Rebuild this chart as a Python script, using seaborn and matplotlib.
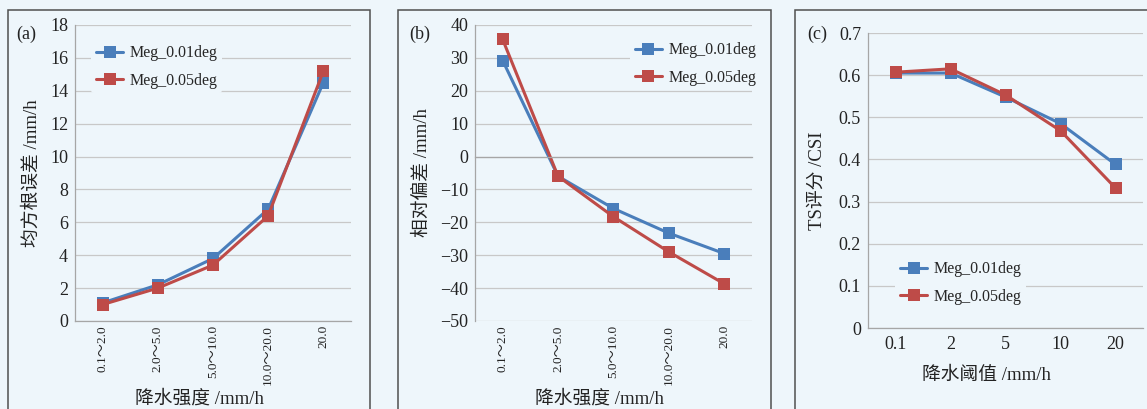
import numpy as np
import pandas as pd
import matplotlib
matplotlib.use("Agg")
import matplotlib.pyplot as plt
from matplotlib.patches import Rectangle
from matplotlib.ticker import FixedLocator, MultipleLocator, FuncFormatter
import seaborn as sns

# ---- data ----
intensity_bins = ["0.1～2.0", "2.0～5.0", "5.0～10.0", "10.0～20.0", "20.0"]
thresholds = ["0.1", "2", "5", "10", "20"]
series_names = ["Meg_0.01deg", "Meg_0.05deg"]

rmse_001 = [1.1, 2.2, 3.8, 6.8, 14.5]
rmse_005 = [1.0, 2.0, 3.4, 6.4, 15.2]
bias_001 = [29.2, -6.0, -15.8, -23.3, -29.5]
bias_005 = [35.6, -6.0, -18.3, -29.0, -38.7]
ts_001 = [0.605, 0.605, 0.548, 0.485, 0.388]
ts_005 = [0.607, 0.615, 0.553, 0.468, 0.332]

BG = "#eef6fb"
GRID = "#c8c8c8"
SPINE = "#a6a6a6"
TXT = "#222222"
palette = {series_names[0]: "#4a7ebb", series_names[1]: "#be4b48"}

sns.set_style("white")
plt.rcParams["font.family"] = ["Liberation Serif", "Noto Sans CJK SC"]
plt.rcParams["axes.unicode_minus"] = True


def long_frame(a, b):
    n = len(a)
    return pd.DataFrame({
        "pos": list(range(n)) * 2,
        "value": list(a) + list(b),
        "model": [series_names[0]] * n + [series_names[1]] * n,
    })


def draw_panel(ax, df):
    sns.lineplot(data=df, x="pos", y="value", hue="model", palette=palette,
                 marker="s", markersize=8.5, markeredgewidth=0, linewidth=2.2,
                 legend=False, ax=ax)
    ax.set_facecolor("none")
    ax.yaxis.grid(True, color=GRID, linewidth=0.9)
    ax.set_axisbelow(True)
    for s in ["top", "right"]:
        ax.spines[s].set_visible(False)
    for s in ["left", "bottom"]:
        ax.spines[s].set_color(SPINE)
        ax.spines[s].set_linewidth(0.9)
    n = df["pos"].nunique()
    ax.set_xlim(-0.5, n - 0.5)
    ax.xaxis.set_minor_locator(FixedLocator(np.arange(-0.5, n, 1.0)))
    ax.tick_params(axis="x", which="minor", length=3, color=SPINE, direction="out")
    ax.tick_params(axis="y", which="major", length=3, color=SPINE, labelsize=13,
                   labelcolor=TXT, pad=2)
    ax.set_xlabel("")
    ax.set_ylabel("")


def add_legend(ax, anchor):
    ax.legend(handles=ax.lines[:2], labels=series_names, loc="upper left",
              bbox_to_anchor=anchor, frameon=True, facecolor=BG, edgecolor="none",
              framealpha=1, fontsize=11.5, handlelength=1.7, handletextpad=0.4,
              labelspacing=0.72, borderpad=0.3)


fig = plt.figure(figsize=(11.47, 4.09), dpi=100, facecolor=BG)

# panel frames
for x0, w in [(0.007, 0.3156), (0.347, 0.3252), (0.6931, 0.33)]:
    fig.add_artist(Rectangle((x0, -0.05), w, 1.0256, transform=fig.transFigure,
                             fill=False, ec="#505050", lw=1.1))

ax_a = fig.add_axes([0.0654, 0.2152, 0.2406, 0.7237])
ax_b = fig.add_axes([0.4141, 0.2152, 0.2415, 0.7237])
ax_c = fig.add_axes([0.7568, 0.198, 0.2398, 0.7213])

# (a) RMSE
draw_panel(ax_a, long_frame(rmse_001, rmse_005))
ax_a.set_ylim(0, 18)
ax_a.yaxis.set_major_locator(MultipleLocator(2))
ax_a.set_xticks(range(len(intensity_bins)))
ax_a.set_xticklabels(intensity_bins, rotation=90, fontsize=9.5, color=TXT)
ax_a.tick_params(axis="x", which="major", length=0, pad=3)
ax_a.set_ylabel("均方根误差 /mm/h", fontsize=13.5, color=TXT, va="center")
ax_a.yaxis.set_label_coords(-0.155, 0.5)
ax_a.set_xlabel("降水强度 /mm/h", fontsize=13.5, color=TXT, va="center")
ax_a.xaxis.set_label_coords(0.45, -0.262)
add_legend(ax_a, (0.03, 0.975))
ax_a.text(-0.175, 0.97, "(a)", transform=ax_a.transAxes, fontsize=13,
          color=TXT, ha="center", va="center")

# (b) relative bias, category axis crossing at zero
draw_panel(ax_b, long_frame(bias_001, bias_005))
ax_b.set_ylim(-50, 40)
ax_b.yaxis.set_major_locator(MultipleLocator(10))
ax_b.spines["bottom"].set_position(("data", 0))
ax_b.set_xticks(range(len(intensity_bins)))
ax_b.tick_params(axis="x", which="major", length=0, labelbottom=False)
sec = ax_b.secondary_xaxis(0.0)
sec.set_xticks(range(len(intensity_bins)))
sec.set_xticklabels(intensity_bins, rotation=90, fontsize=9.5, color=TXT)
sec.tick_params(length=0, pad=3)
sec.spines["bottom"].set_visible(False)
ax_b.set_ylabel("相对偏差 /mm/h", fontsize=13.5, color=TXT, va="center")
ax_b.yaxis.set_label_coords(-0.19, 0.5)
ax_b.text(0.45, -0.262, "降水强度 /mm/h", transform=ax_b.transAxes,
          fontsize=13.5, color=TXT, ha="center", va="center")
add_legend(ax_b, (0.53, 0.985))
ax_b.text(-0.2, 0.97, "(b)", transform=ax_b.transAxes, fontsize=13,
          color=TXT, ha="center", va="center")

# (c) TS / CSI
draw_panel(ax_c, long_frame(ts_001, ts_005))
ax_c.set_ylim(0, 0.7)
ax_c.yaxis.set_major_locator(MultipleLocator(0.1))
ax_c.yaxis.set_major_formatter(FuncFormatter(lambda v, p: "0" if abs(v) < 1e-9 else f"{v:.1f}"))
ax_c.set_xticks(range(len(thresholds)))
ax_c.set_xticklabels(thresholds, fontsize=13, color=TXT)
ax_c.tick_params(axis="x", which="major", length=0, pad=6)
ax_c.set_ylabel("TS评分 /CSI", fontsize=13.5, color=TXT, va="center")
ax_c.yaxis.set_label_coords(-0.185, 0.5)
ax_c.set_xlabel("降水阈值 /mm/h", fontsize=13.5, color=TXT, va="center")
ax_c.xaxis.set_label_coords(0.43, -0.159)
add_legend(ax_c, (0.07, 0.27))
ax_c.text(-0.185, 0.995, "(c)", transform=ax_c.transAxes, fontsize=13,
          color=TXT, ha="center", va="center")

fig.savefig("out.png", dpi=100, facecolor=BG)
